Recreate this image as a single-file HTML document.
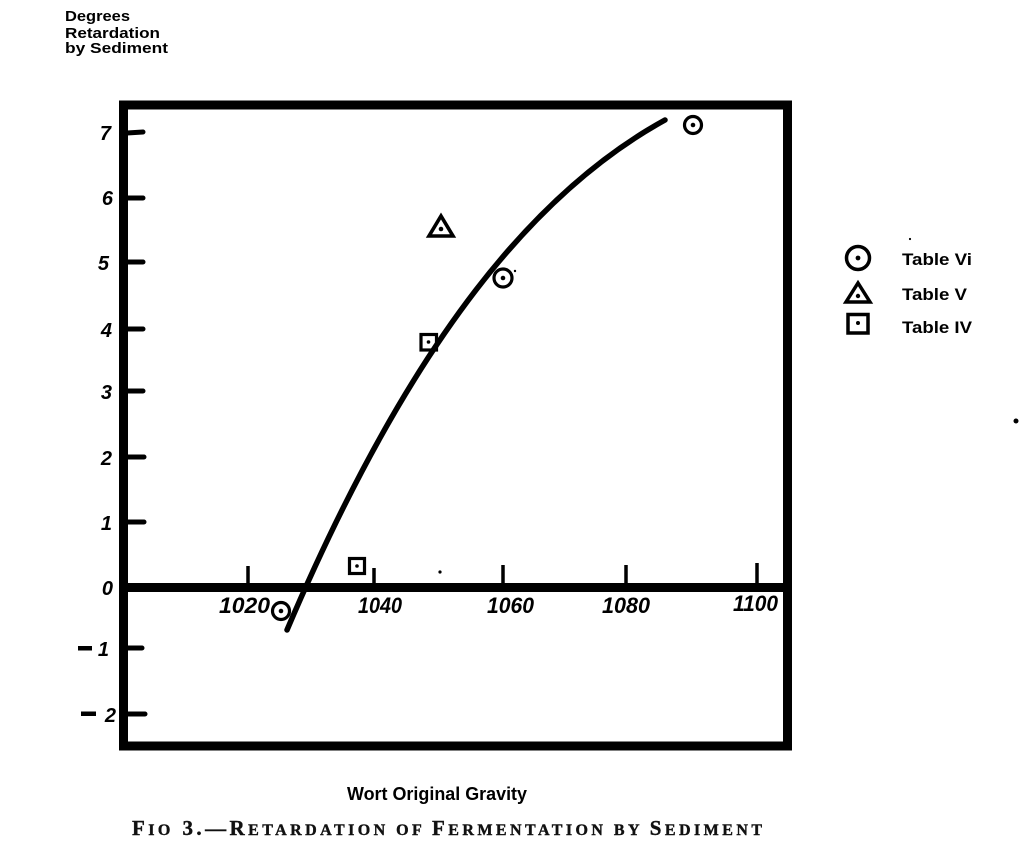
<!DOCTYPE html>
<html>
<head>
<meta charset="utf-8">
<style>
  html,body{margin:0;padding:0;background:#fff;}
  svg{display:block;}
  .t{font-family:"Liberation Sans",sans-serif;font-weight:bold;fill:#000;}
  .n{font-family:"Liberation Sans",sans-serif;font-weight:bold;font-style:italic;fill:#000;}
  .s{font-family:"Liberation Serif",serif;font-weight:bold;fill:#111;}
</style>
</head>
<body>
<svg width="1024" height="848" viewBox="0 0 1024 848" xmlns="http://www.w3.org/2000/svg">
  <rect x="0" y="0" width="1024" height="848" fill="#fff"/>

  <!-- Y axis title -->
  <text class="t" x="65" y="21" font-size="15" textLength="65" lengthAdjust="spacingAndGlyphs">Degrees</text>
  <text class="t" x="65" y="38" font-size="15" textLength="95" lengthAdjust="spacingAndGlyphs">Retardation</text>
  <text class="t" x="65" y="53" font-size="15" textLength="103" lengthAdjust="spacingAndGlyphs">by Sediment</text>

  <!-- Frame -->
  <rect x="123.5" y="105" width="664" height="641" fill="none" stroke="#000" stroke-width="9"/>
  <!-- Zero line -->
  <line x1="123" y1="587.5" x2="788" y2="587.5" stroke="#000" stroke-width="9"/>

  <!-- Y ticks -->
  <g stroke="#000" stroke-width="5" stroke-linecap="round">
    <line x1="127" y1="133" x2="143" y2="132"/>
    <line x1="127" y1="198" x2="143" y2="198"/>
    <line x1="127" y1="262" x2="143" y2="262"/>
    <line x1="127" y1="329" x2="143" y2="329"/>
    <line x1="127" y1="391" x2="143" y2="391"/>
    <line x1="127" y1="457" x2="144" y2="457"/>
    <line x1="127" y1="522" x2="144" y2="522"/>
    <line x1="127" y1="648" x2="142" y2="648"/>
    <line x1="127" y1="714" x2="145" y2="714"/>
  </g>

  <!-- Y labels -->
  <g class="n" font-size="20" text-anchor="end">
    <text x="111" y="140">7</text>
    <text x="113" y="205">6</text>
    <text x="109" y="270">5</text>
    <text x="112" y="337">4</text>
    <text x="112" y="399">3</text>
    <text x="112" y="465">2</text>
    <text x="112" y="530">1</text>
    <text x="113" y="595">0</text>
    <text x="109" y="656">1</text>
    <text x="116" y="722">2</text>
  </g>
  <rect x="78" y="646" width="14" height="4.5" fill="#000"/>
  <rect x="81" y="711.5" width="15" height="4.5" fill="#000"/>

  <!-- X ticks -->
  <g stroke="#000" stroke-width="3.5">
    <line x1="248" y1="566" x2="248" y2="584"/>
    <line x1="374" y1="568" x2="374" y2="584"/>
    <line x1="503" y1="565" x2="503" y2="584"/>
    <line x1="626" y1="565" x2="626" y2="584"/>
    <line x1="757" y1="563" x2="757" y2="584"/>
  </g>

  <!-- X labels -->
  <g class="n" font-size="22">
    <text x="219" y="613" textLength="51" lengthAdjust="spacingAndGlyphs">1020</text>
    <text x="358" y="613" textLength="44" lengthAdjust="spacingAndGlyphs">1040</text>
    <text x="487" y="613" textLength="47" lengthAdjust="spacingAndGlyphs">1060</text>
    <text x="602" y="613" textLength="48" lengthAdjust="spacingAndGlyphs">1080</text>
    <text x="733" y="611" textLength="45" lengthAdjust="spacingAndGlyphs">1100</text>
  </g>

  <!-- Curve -->
  <path d="M287,630 C413,333.9 539,189.3 665,120"
        fill="none" stroke="#000" stroke-width="5.5" stroke-linecap="round"/>

  <!-- Data markers -->
  <g fill="none" stroke="#000" stroke-width="3.2">
    <circle cx="693" cy="125" r="8.5"/>
    <circle cx="503" cy="278" r="9"/>
    <circle cx="281" cy="611" r="8.5"/>
    <polygon points="429,236 453,236 441,216" stroke-width="3.6" stroke-linejoin="miter"/>
    <rect x="421" y="334.5" width="15.5" height="15.5"/>
    <rect x="349.5" y="558.5" width="15" height="15"/>
  </g>
  <g fill="#000">
    <circle cx="693" cy="125" r="2.3"/>
    <circle cx="503" cy="278" r="2.3"/>
    <circle cx="281" cy="611" r="2.3"/>
    <circle cx="441" cy="229" r="2.3"/>
    <circle cx="428.5" cy="342" r="1.8"/>
    <circle cx="357" cy="566" r="1.8"/>
    <!-- stray specks -->
    <circle cx="1016" cy="421" r="2.5"/>
    <circle cx="440" cy="572" r="1.6"/>
    <circle cx="515" cy="271" r="1.2"/>
    <circle cx="910" cy="239" r="1.1"/>
  </g>

  <!-- Legend -->
  <g fill="none" stroke="#000" stroke-width="3.5">
    <circle cx="858" cy="258" r="11.5"/>
    <polygon points="846,302 870,302 858,283" stroke-linejoin="miter"/>
    <rect x="848" y="314.5" width="20" height="18.5"/>
  </g>
  <g fill="#000">
    <circle cx="858" cy="258" r="2.4"/>
    <circle cx="858" cy="296" r="2.2"/>
    <circle cx="858" cy="323" r="2"/>
  </g>
  <g class="t" font-size="17">
    <text x="902" y="265" textLength="70" lengthAdjust="spacingAndGlyphs">Table Vi</text>
    <text x="902" y="300" textLength="65" lengthAdjust="spacingAndGlyphs">Table V</text>
    <text x="902" y="333" textLength="70" lengthAdjust="spacingAndGlyphs">Table IV</text>
  </g>

  <!-- X axis title -->
  <text class="t" x="347" y="800" font-size="18" textLength="180" lengthAdjust="spacingAndGlyphs">Wort Original Gravity</text>

  <!-- Caption -->
  <text class="s" x="132" y="835" textLength="630" lengthAdjust="spacing" stroke="#111" stroke-width="0.4"><tspan font-size="21">F</tspan><tspan font-size="16">IO</tspan><tspan font-size="21"> 3.—R</tspan><tspan font-size="16">ETARDATION OF </tspan><tspan font-size="21">F</tspan><tspan font-size="16">ERMENTATION BY </tspan><tspan font-size="21">S</tspan><tspan font-size="16">EDIMENT</tspan></text>
</svg>
</body>
</html>
